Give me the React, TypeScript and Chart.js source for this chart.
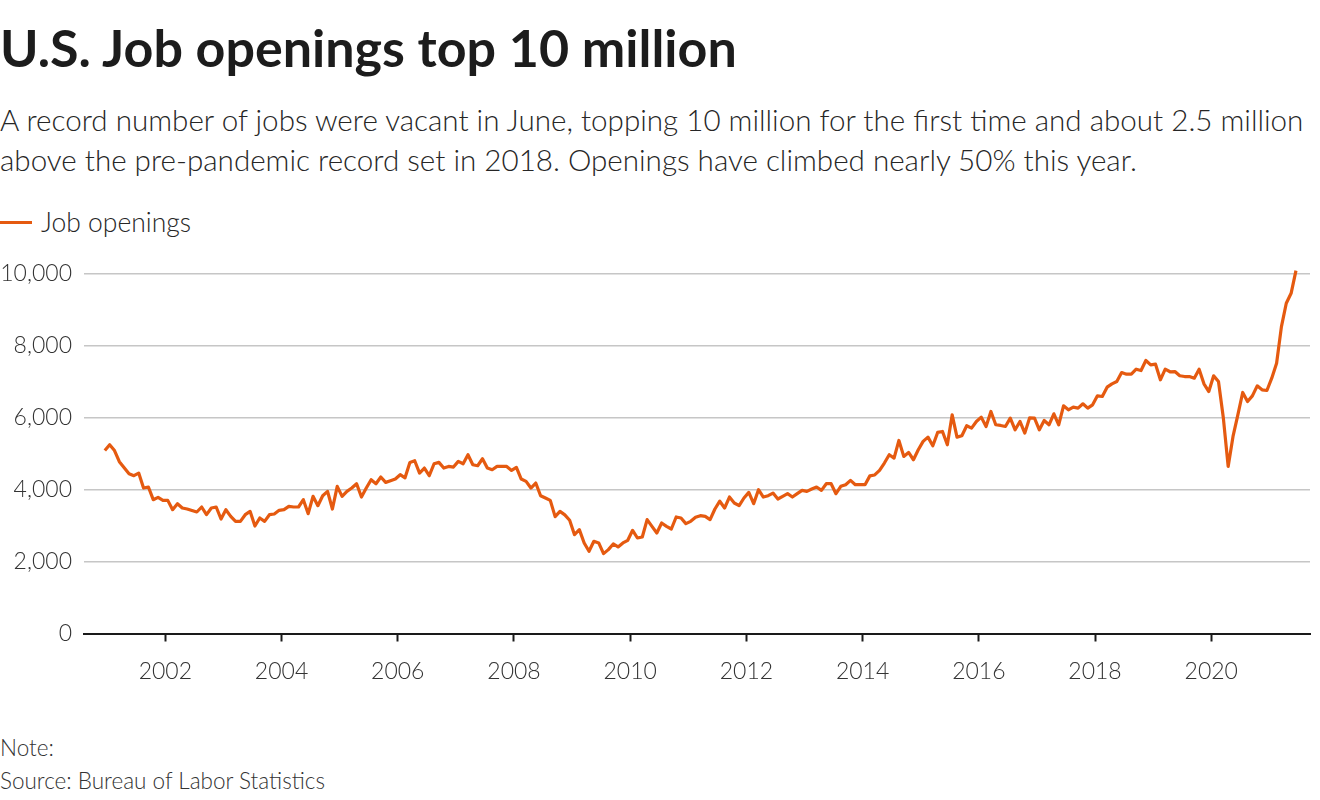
import React, { useEffect, useRef } from "react";
import { Chart, registerables } from "chart.js";

Chart.register(...registerables);

// ---- Data (thousands of job openings, monthly, seasonally adjusted) ----
const startYear = 2000;
const startMonth = 12; // first observation: Dec 2000

const openings2000 = [5090];
const openings2001 = [5250, 5090, 4778, 4611, 4444, 4389, 4463, 4046, 4074, 3722, 3787, 3703];
const openings2002 = [3703, 3444, 3611, 3491, 3463, 3420, 3380, 3519, 3305, 3491, 3519, 3185];
const openings2003 = [3444, 3259, 3120, 3120, 3305, 3398, 2990, 3213, 3120, 3305, 3324, 3426];
const openings2004 = [3444, 3537, 3519, 3519, 3722, 3333, 3815, 3555, 3833, 3954, 3463, 4092];
const openings2005 = [3815, 3954, 4046, 4167, 3796, 4046, 4278, 4167, 4352, 4204, 4250, 4296];
const openings2006 = [4417, 4330, 4759, 4806, 4463, 4602, 4389, 4722, 4759, 4602, 4648, 4630];
const openings2007 = [4787, 4722, 4972, 4694, 4667, 4861, 4602, 4556, 4648, 4648, 4648, 4537];
const openings2008 = [4620, 4296, 4231, 4046, 4185, 3833, 3768, 3703, 3250, 3398, 3300, 3150];
const openings2009 = [2750, 2889, 2519, 2287, 2565, 2519, 2222, 2333, 2491, 2407, 2519, 2593];
const openings2010 = [2870, 2657, 2685, 3167, 2981, 2796, 3074, 2981, 2907, 3241, 3213, 3056];
const openings2011 = [3120, 3231, 3278, 3259, 3167, 3463, 3680, 3491, 3796, 3630, 3556, 3769];
const openings2012 = [3926, 3611, 4000, 3796, 3833, 3907, 3741, 3815, 3889, 3796, 3889, 3981];
const openings2013 = [3954, 4019, 4074, 3981, 4167, 4167, 3889, 4093, 4139, 4259, 4139, 4139];
const openings2014 = [4139, 4385, 4410, 4537, 4741, 4972, 4880, 5370, 4926, 5037, 4833, 5111];
const openings2015 = [5343, 5463, 5222, 5593, 5620, 5250, 6083, 5463, 5500, 5778, 5713, 5898];
const openings2016 = [6019, 5759, 6176, 5806, 5787, 5759, 5991, 5667, 5898, 5574, 6000, 5991];
const openings2017 = [5667, 5926, 5806, 6111, 5806, 6333, 6222, 6296, 6269, 6389, 6269, 6361];
const openings2018 = [6611, 6593, 6852, 6944, 7009, 7259, 7213, 7213, 7352, 7315, 7593, 7472];
const openings2019 = [7491, 7056, 7352, 7280, 7287, 7170, 7148, 7148, 7102, 7352, 6944, 6731];
const openings2020 = [7167, 7009, 6000, 4648, 5481, 6083, 6704, 6454, 6611, 6889, 6778, 6759];
const openings2021 = [7102, 7519, 8537, 9185, 9463, 10093];

const jobOpenings = [
  ...openings2000, ...openings2001, ...openings2002, ...openings2003, ...openings2004,
  ...openings2005, ...openings2006, ...openings2007, ...openings2008, ...openings2009,
  ...openings2010, ...openings2011, ...openings2012, ...openings2013, ...openings2014,
  ...openings2015, ...openings2016, ...openings2017, ...openings2018, ...openings2019,
  ...openings2020, ...openings2021,
];

const yearTicks = [2002, 2004, 2006, 2008, 2010, 2012, 2014, 2016, 2018, 2020];
const valueTicks = [0, 2000, 4000, 6000, 8000, 10000];

const seriesLabel = "Job openings";
const titleText = "U.S. Job openings top 10 million";
const subtitleLine1 =
  "A record number of jobs were vacant in June, topping 10 million for the first time and about 2.5 million";
const subtitleLine2 =
  "above the pre-pandemic record set in 2018. Openings have climbed nearly 50% this year.";
const noteText = "Note:";
const sourceText = "Source: Bureau of Labor Statistics";

const LINE_COLOR = "#e55a10";
const FONT = "Lato, 'Noto Sans', sans-serif";

export default function App() {
  const canvasRef = useRef<HTMLCanvasElement | null>(null);

  useEffect(() => {
    const canvas = canvasRef.current;
    if (!canvas) return;
    const points = jobOpenings.map((v, i) => ({
      x: startYear + (startMonth - 1 + i + 0.5) / 12,
      y: v,
    }));

    const chart = new Chart(canvas, {
      type: "line",
      data: {
        datasets: [
          {
            label: seriesLabel,
            data: points,
            borderColor: LINE_COLOR,
            backgroundColor: LINE_COLOR,
            borderWidth: 3.2,
            pointRadius: 0,
            tension: 0,
            clip: false as any,
            borderJoinStyle: "round",
          },
        ],
      },
      options: {
        animation: false,
        responsive: false,
        maintainAspectRatio: false,
        events: [],
        layout: { padding: { top: 34, left: 0, right: 10, bottom: 0 } },
        plugins: {
          legend: { display: false },
          tooltip: { enabled: false },
          title: { display: false },
        },
        scales: {
          x: {
            type: "linear",
            min: 2000.6,
            max: 2021.7,
            afterBuildTicks: (scale: any) => {
              scale.ticks = yearTicks.map((v) => ({ value: v }));
            },
            afterFit: (scale: any) => {
              scale.height = 66.5;
            },
            grid: {
              display: true,
              drawOnChartArea: false,
              drawTicks: true,
              tickLength: 8,
              tickColor: "#1a1a1a",
              tickWidth: 2,
            },
            border: { display: true, color: "#1a1a1a", width: 2 },
            ticks: {
              autoSkip: false,
              maxRotation: 0,
              padding: 16,
              color: "#333",
              font: { family: FONT, size: 23, weight: 300 as any },
              callback: (v: any) => String(v),
            },
          },
          y: {
            type: "linear",
            min: 0,
            max: 10000,
            afterBuildTicks: (scale: any) => {
              scale.ticks = valueTicks.map((v) => ({ value: v }));
            },
            afterFit: (scale: any) => {
              scale.width = 84;
            },
            grid: {
              drawTicks: false,
              color: (ctx: any) => (ctx.tick && ctx.tick.value === 0 ? "rgba(0,0,0,0)" : "#c6c6c6"),
              lineWidth: 1.5,
            },
            border: { display: false },
            ticks: {
              padding: 12,
              color: "#333",
              font: { family: FONT, size: 23, weight: 300 as any },
              callback: (v: any) => Number(v).toLocaleString("en-US"),
            },
          },
        },
      },
    });
    return () => chart.destroy();
  }, []);

  const base: React.CSSProperties = {
    position: "absolute",
    left: 0,
    margin: 0,
    whiteSpace: "nowrap",
    fontFamily: FONT,
  };

  return (
    <div
      style={{
        position: "absolute",
        left: 0,
        top: 0,
        width: 1320,
        height: 800,
        background: "#fff",
        overflow: "hidden",
      }}
    >
      <div style={{ ...base, top: 21, fontSize: 52, lineHeight: "52px", fontWeight: 700, color: "#1c1c1c" }}>
        {titleText}
      </div>
      <div style={{ ...base, top: 100, fontSize: 29.6, lineHeight: "40px", fontWeight: 300, color: "#262626" }}>
        {subtitleLine1}
        <br />
        {subtitleLine2}
      </div>
      <div style={{ ...base, top: 207, height: 30, display: "flex", alignItems: "center" }}>
        <span style={{ display: "inline-block", width: 32, height: 3, background: LINE_COLOR, marginRight: 9 }} />
        <span style={{ fontSize: 26.5, lineHeight: "27px", fontWeight: 300, color: "#262626" }}>{seriesLabel}</span>
      </div>
      <canvas
        ref={canvasRef}
        width={1320}
        height={460}
        style={{ position: "absolute", left: 0, top: 240, width: 1320, height: 460 }}
      />
      <div style={{ ...base, top: 736, fontSize: 22.5, lineHeight: "23px", fontWeight: 300, color: "#333" }}>
        {noteText}
      </div>
      <div style={{ ...base, top: 769, fontSize: 22.5, lineHeight: "23px", fontWeight: 300, color: "#333" }}>
        {sourceText}
      </div>
    </div>
  );
}
